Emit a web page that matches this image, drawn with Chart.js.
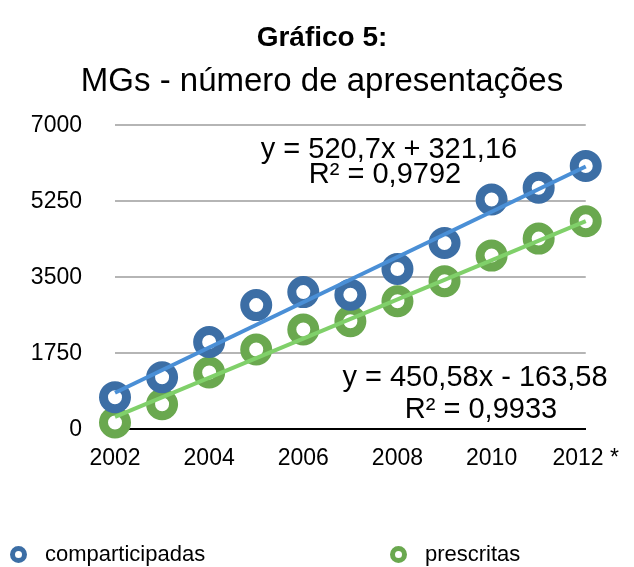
<!DOCTYPE html>
<html>
<head>
<meta charset="utf-8">
<script src="https://cdn.jsdelivr.net/npm/chart.js@4/dist/chart.umd.min.js"></script>
<style>
  body { margin: 0; background: #fff; }
  #wrap { position: relative; width: 634px; height: 567px; }
  .leg { position: absolute; top: 541px; font: 22px "Liberation Sans", Arial, sans-serif; line-height: 26px; color: #000; display: flex; align-items: center; }
  .ring { width: 7px; height: 7px; border: 5px solid; border-radius: 50%; margin-right: 18px; }
</style>
</head>
<body>
<div id="wrap">
  <canvas id="myChart" width="634" height="567"></canvas>
  <div class="leg" style="left:10px"><span class="ring" style="border-color:#3c6ea5"></span>comparticipadas</div>
  <div class="leg" style="left:390px"><span class="ring" style="border-color:#6aa84f"></span>prescritas</div>
</div>
<script>
// data
const years = ['2002', '2003', '2004', '2005', '2006', '2007', '2008', '2009', '2010', '2011', '2012 *'];
const comparticipadas = [740, 1200, 2010, 2860, 3160, 3100, 3690, 4290, 5290, 5560, 6060];
const prescritas = [160, 580, 1310, 1840, 2300, 2490, 2950, 3410, 4000, 4390, 4790];
// trendline end points (2002 and 2012)
const trendComparticipadas = [842, 6049];
const trendPrescritas = [287, 4793];
const yTicks = [0, 1750, 3500, 5250, 7000];
const eqComparticipadas = ['y = 520,7x + 321,16', 'R² = 0,9792'];
const eqPrescritas = ['y = 450,58x - 163,58', 'R² = 0,9933'];

const FONT = '"Liberation Sans", Arial, sans-serif';

// draws the trendline equations
const equationLabels = {
  id: 'equationLabels',
  afterDatasetsDraw(chart) {
    const ctx = chart.ctx;
    ctx.save();
    ctx.font = '29px ' + FONT;
    ctx.fillStyle = '#000';
    ctx.textAlign = 'center';
    ctx.textBaseline = 'alphabetic';
    ctx.fillText(eqComparticipadas[0], 389, 158);
    ctx.fillText(eqComparticipadas[1], 385, 183);
    ctx.fillText(eqPrescritas[0], 475, 386);
    ctx.fillText(eqPrescritas[1], 481, 418);
    ctx.restore();
  }
};

const ringStyle = color => ({
  type: 'line',
  showLine: false,
  borderColor: color,
  backgroundColor: '#fff',
  pointRadius: 11.5,
  pointHoverRadius: 11.5,
  pointBorderWidth: 9,
  pointHoverBorderWidth: 9,
  clip: false
});

const ctx = document.getElementById('myChart').getContext('2d');
new Chart(ctx, {
  type: 'line',
  data: {
    labels: years,
    datasets: [
      {
        label: 'tendência comparticipadas',
        data: [{x: years[0], y: trendComparticipadas[0]}, {x: years[years.length - 1], y: trendComparticipadas[1]}],
        borderColor: '#4a8fd6',
        borderWidth: 4,
        pointRadius: 0,
        clip: false
      },
      {
        label: 'tendência prescritas',
        data: [{x: years[0], y: trendPrescritas[0]}, {x: years[years.length - 1], y: trendPrescritas[1]}],
        borderColor: '#80d06a',
        borderWidth: 4,
        pointRadius: 0,
        clip: false
      },
      Object.assign({label: 'comparticipadas', data: comparticipadas}, ringStyle('#3c6ea5')),
      Object.assign({label: 'prescritas', data: prescritas}, ringStyle('#6aa84f'))
    ]
  },
  options: {
    responsive: false,
    animation: false,
    layout: { padding: { left: 20, right: 10, top: 0, bottom: 80 } },
    plugins: {
      legend: { display: false },
      tooltip: { enabled: false },
      title: {
        display: true,
        text: 'Gráfico 5:',
        color: '#000',
        font: { family: FONT, size: 28, weight: 'bold' },
        padding: { top: 21, bottom: 4 }
      },
      subtitle: {
        display: true,
        text: 'MGs - número de apresentações',
        color: '#000',
        font: { family: FONT, size: 33 },
        padding: { top: 4, bottom: 23 }
      }
    },
    scales: {
      x: {
        grid: { display: false, drawTicks: false },
        border: { color: '#000', width: 2 },
        ticks: {
          color: '#000',
          font: { family: FONT, size: 23 },
          autoSkip: false,
          maxRotation: 0,
          padding: 15,
          callback: function (v, i) { return i % 2 === 0 ? this.getLabelForValue(v) : ''; }
        }
      },
      y: {
        min: 0,
        max: 7000,
        afterBuildTicks: axis => { axis.ticks = yTicks.map(v => ({ value: v })); },
        afterFit: axis => { axis.width = 95; },
        grid: {
          drawTicks: false,
          lineWidth: 2,
          color: c => c.tick && c.tick.value === 0 ? 'rgba(0,0,0,0)' : '#b5b5b5'
        },
        border: { display: false },
        ticks: {
          color: '#000',
          font: { family: FONT, size: 23 },
          padding: 33,
          callback: v => String(v)
        }
      },
      // empty right-hand axis, only keeps space on the right
      yRight: {
        position: 'right',
        display: true,
        grid: { display: false, drawTicks: false },
        border: { display: false },
        ticks: { display: false },
        afterFit: axis => { axis.width = 37; }
      }
    }
  },
  plugins: [equationLabels]
});
</script>
</body>
</html>
